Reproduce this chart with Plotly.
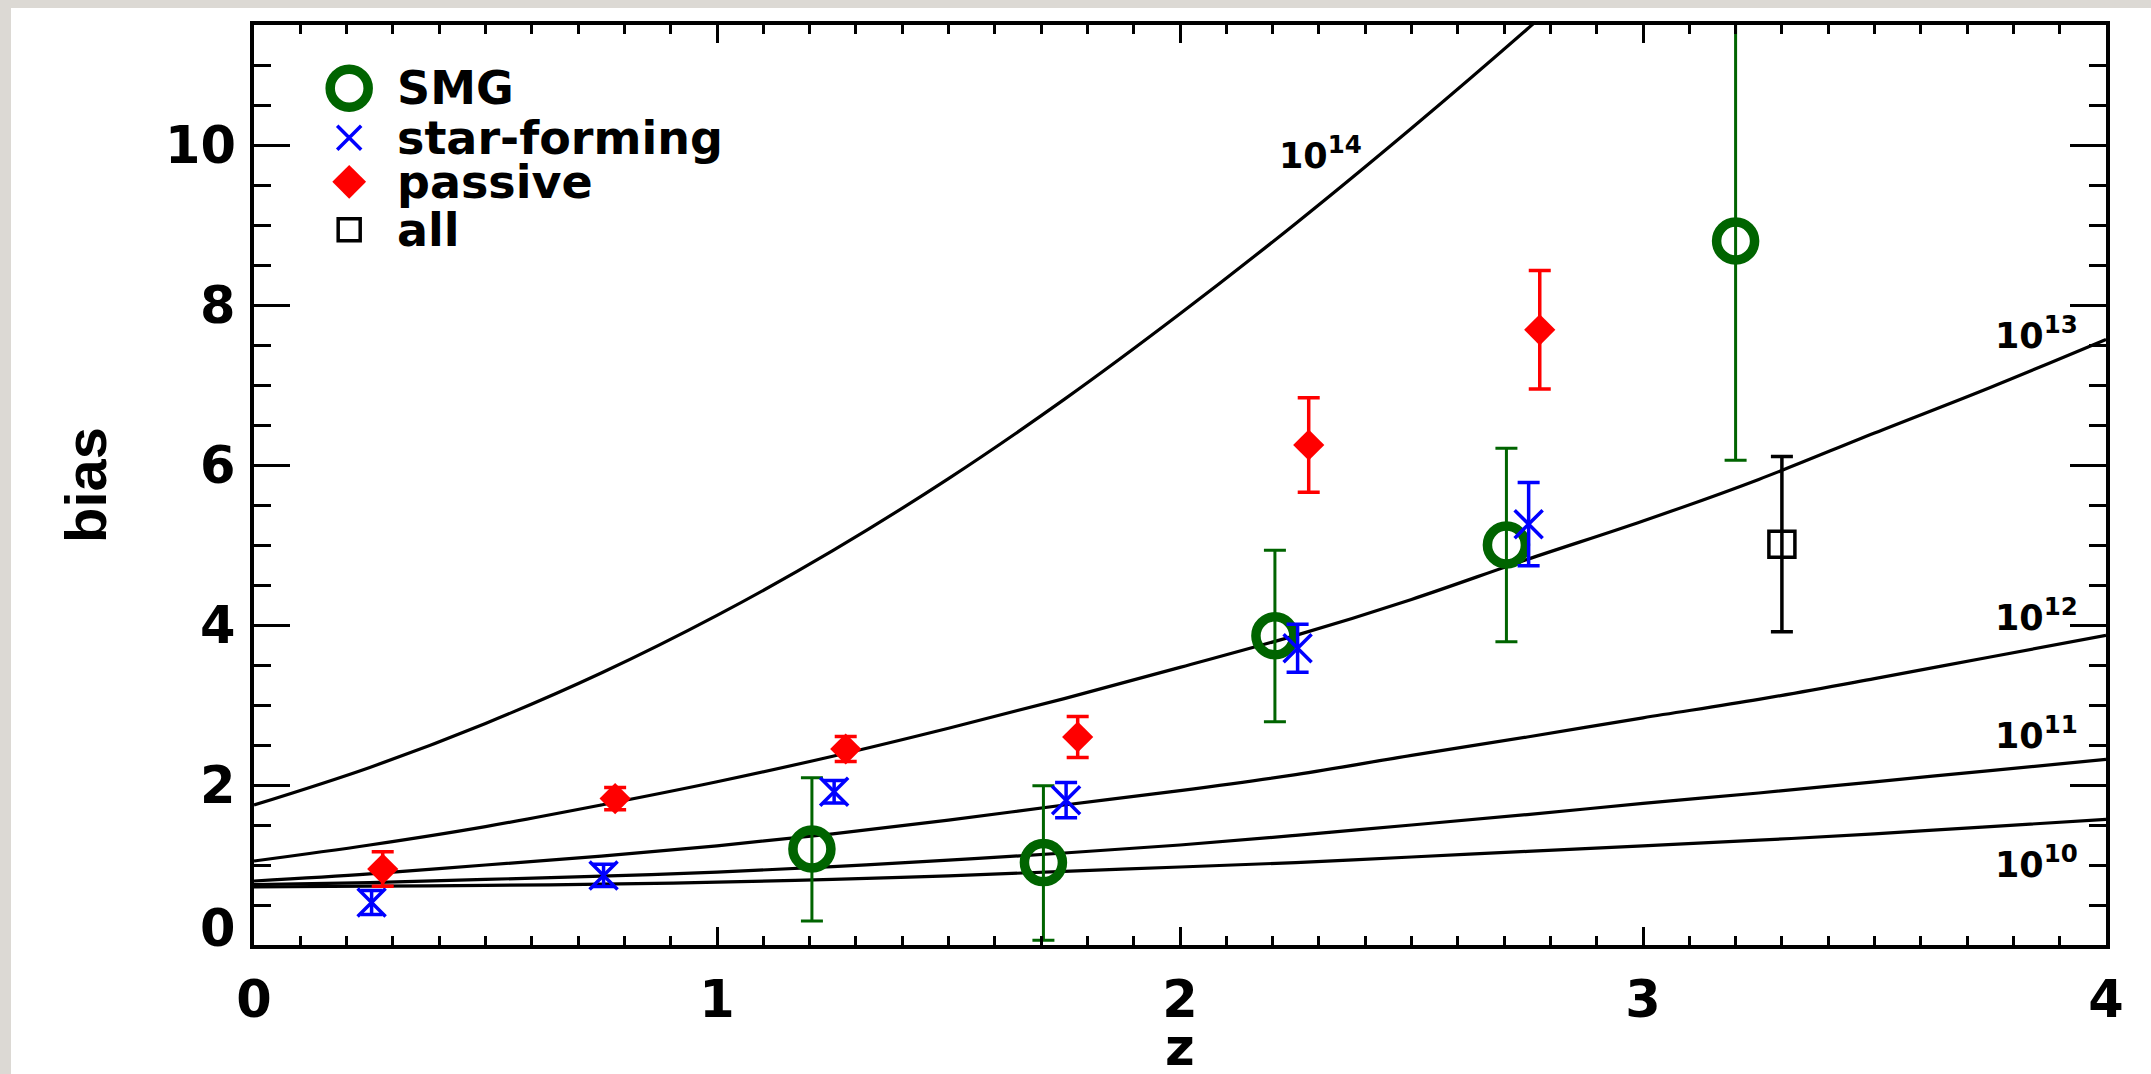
import plotly.graph_objects as go

# ---------------- data ----------------
z_grid = [0.0, 0.25, 0.5, 0.75, 1.0, 1.25, 1.5, 1.75, 2.0, 2.25, 2.5, 2.75, 3.0, 3.25, 3.5, 3.75, 4.0]

z_grid_14 = [0.0, 0.25, 0.5, 0.75, 1.0, 1.25, 1.5, 1.75, 2.0, 2.25, 2.5, 2.75, 3.0]
bias_1e14 = [1.75, 2.22, 2.77, 3.40, 4.12, 4.93, 5.83, 6.82, 7.89, 9.02, 10.21, 11.45, 12.74]
bias_1e13 = [1.05, 1.25, 1.48, 1.75, 2.04, 2.36, 2.71, 3.08, 3.47, 3.87, 4.32, 4.82, 5.30, 5.82, 6.40, 6.97, 7.57]
bias_1e12 = [0.80, 0.89, 1.00, 1.11, 1.24, 1.39, 1.56, 1.75, 1.93, 2.13, 2.37, 2.60, 2.84, 3.07, 3.33, 3.60, 3.87]
bias_1e11 = [0.755, 0.78, 0.82, 0.86, 0.91, 0.98, 1.06, 1.15, 1.25, 1.37, 1.50, 1.63, 1.77, 1.90, 2.04, 2.18, 2.32]
bias_1e10 = [0.725, 0.735, 0.745, 0.76, 0.785, 0.82, 0.865, 0.92, 0.975, 1.03, 1.10, 1.17, 1.24, 1.31, 1.39, 1.48, 1.57]
mass_exponents = [14, 13, 12, 11, 10]

smg_z = [1.205, 1.705, 2.205, 2.705, 3.2]
smg_bias = [1.20, 1.03, 3.865, 5.0, 8.8]
smg_err_hi = [0.89, 0.96, 1.07, 1.21, 2.75]
smg_err_lo = [0.90, 0.97, 1.075, 1.21, 2.74]

sf_z = [0.254, 0.755, 1.253, 1.754, 2.254, 2.753]
sf_bias = [0.53, 0.87, 1.915, 1.81, 3.71, 5.26]
sf_err = [0.15, 0.14, 0.14, 0.22, 0.30, 0.52]

pas_z = [0.278, 0.78, 1.278, 1.779, 2.278, 2.777]
pas_bias = [0.95, 1.83, 2.45, 2.60, 6.25, 7.69]
pas_err = [0.215, 0.14, 0.155, 0.255, 0.59, 0.74]

all_z = [3.30]
all_bias = [5.01]
all_err = [1.095]

legend_names = ["SMG", "star-forming", "passive", "all"]
x_ticks = [0, 1, 2, 3, 4]
y_ticks = [0, 2, 4, 6, 8, 10]

# ---------------- layout / style constants ----------------
W, H = 2151, 1074
L, R, T, B = 254, 45, 25, 129
PW, PH = W - L - R, H - T - B
FONT = "DejaVu Sans"
GREEN = "#006400"
BLUE = "#0000ff"
RED = "#ff0000"
BLACK = "#000000"

fig = go.Figure()

# model curves
curve_sets = [(z_grid_14, bias_1e14), (z_grid, bias_1e13), (z_grid, bias_1e12),
              (z_grid, bias_1e11), (z_grid, bias_1e10)]
for zz, bb in curve_sets:
    fig.add_trace(go.Scatter(x=zz, y=bb, mode="lines",
                             line=dict(color=BLACK, width=3.2, shape="spline", smoothing=1.0),
                             hoverinfo="skip", showlegend=False))

# data points
fig.add_trace(go.Scatter(x=smg_z, y=smg_bias, mode="markers", showlegend=False,
                         marker=dict(symbol="circle-open", size=38, color=GREEN,
                                     line=dict(width=9.5, color=GREEN)),
                         error_y=dict(type="data", array=smg_err_hi, arrayminus=smg_err_lo,
                                      color=GREEN, thickness=3, width=11)))
fig.add_trace(go.Scatter(x=sf_z, y=sf_bias, mode="markers", showlegend=False,
                         marker=dict(symbol="x-thin-open", size=28, color=BLUE,
                                     line=dict(width=3.5, color=BLUE)),
                         error_y=dict(type="data", array=sf_err, color=BLUE, thickness=3.5, width=11)))
fig.add_trace(go.Scatter(x=pas_z, y=pas_bias, mode="markers", showlegend=False,
                         marker=dict(symbol="diamond", size=24, color=RED, line=dict(width=0)),
                         error_y=dict(type="data", array=pas_err, color=RED, thickness=3.5, width=11)))
fig.add_trace(go.Scatter(x=all_z, y=all_bias, mode="markers", showlegend=False,
                         marker=dict(symbol="square-open", size=26, color=BLACK,
                                     line=dict(width=3.5, color=BLACK)),
                         error_y=dict(type="data", array=all_err, color=BLACK, thickness=3.5, width=11)))

# hand-drawn legend (symbols in data coordinates)
leg_x = 0.2056
leg_text_x = 0.305
leg_rows = [10.71, 10.09, 9.54, 8.94]
leg_styles = [
    dict(symbol="circle-open", size=38, color=GREEN, line=dict(width=9.5, color=GREEN)),
    dict(symbol="x-thin-open", size=24, color=BLUE, line=dict(width=3.5, color=BLUE)),
    dict(symbol="diamond", size=26, color=RED, line=dict(width=0)),
    dict(symbol="square-open", size=22, color=BLACK, line=dict(width=3.5, color=BLACK)),
]
for name, yy, st in zip(legend_names, leg_rows, leg_styles):
    fig.add_trace(go.Scatter(x=[leg_x], y=[yy], mode="markers", marker=st,
                             showlegend=False, hoverinfo="skip", cliponaxis=False))
    fig.add_annotation(x=leg_text_x, y=yy, xref="x", yref="y", text=name, showarrow=False,
                       xanchor="left", yanchor="middle",
                       font=dict(family=FONT, size=46, color=BLACK, weight="bold"))

# curve labels
lab_pos = [(2.21, 9.87), (3.756, 7.62), (3.756, 4.09), (3.756, 2.62), (3.756, 1.01)]
for ex, (lx, ly) in zip(mass_exponents, lab_pos):
    fig.add_annotation(x=lx, y=ly + 0.03, xref="x", yref="y",
                       text="10<sup>%d</sup>" % ex, showarrow=False,
                       xanchor="left", yanchor="middle",
                       font=dict(family=FONT, size=35, color=BLACK, weight="bold"))

# y tick labels (the "0" sits a little above its tick, as in the reference)
tickfont = dict(family=FONT, size=51, color=BLACK, weight="bold")
for v in y_ticks:
    fig.add_annotation(x=(238 - L) / PW, y=v, xref="paper", yref="y", text=str(v),
                       showarrow=False, xanchor="right", yanchor="middle",
                       yshift=17 if v == 0 else 0, font=tickfont)

# axis titles
fig.add_annotation(x=0.5, y=-(1047 - (T + PH)) / PH, xref="paper", yref="paper", text="z",
                   showarrow=False, xanchor="center", yanchor="middle",
                   font=dict(family=FONT, size=51, color=BLACK, weight="bold"))
fig.add_annotation(x=(85 - L) / PW, y=0.5, xref="paper", yref="paper", text="bias",
                   showarrow=False, xanchor="center", yanchor="middle", textangle=-90,
                   font=dict(family="Liberation Sans", size=58, color=BLACK, weight="bold"))

# white panel over grey paper
fig.add_shape(type="rect", xref="paper", yref="paper", layer="below",
              x0=(11 - L) / PW, x1=(W + 10 - L) / PW,
              y0=-(B + 10) / PH, y1=(T + PH - 8) / PH,
              fillcolor="white", line=dict(width=0))

fig.update_xaxes(range=[0, 4], tickmode="array", tickvals=x_ticks, ticktext=[str(v) for v in x_ticks],
                 ticks="inside", ticklen=18, tickwidth=3, tickcolor=BLACK,
                 showline=True, linewidth=3.5, linecolor=BLACK, mirror="ticks",
                 showgrid=False, zeroline=False, tickfont=tickfont, ticklabelstandoff=7,
                 minor=dict(ticks="inside", ticklen=9, tickwidth=3, tickcolor=BLACK,
                            dtick=0.1, tick0=0, showgrid=False))
fig.update_yaxes(range=[0, 11.5], tickmode="array", tickvals=y_ticks, showticklabels=False,
                 ticks="inside", ticklen=36, tickwidth=3, tickcolor=BLACK,
                 showline=True, linewidth=3.5, linecolor=BLACK, mirror="ticks",
                 showgrid=False, zeroline=False,
                 minor=dict(ticks="inside", ticklen=17, tickwidth=3, tickcolor=BLACK,
                            dtick=0.5, tick0=0, showgrid=False))

fig.update_layout(width=W, height=H, margin=dict(l=L, r=R, t=T, b=B, pad=0),
                  paper_bgcolor="#dcd9d4", plot_bgcolor="white", showlegend=False)

fig.write_html("out.html")
